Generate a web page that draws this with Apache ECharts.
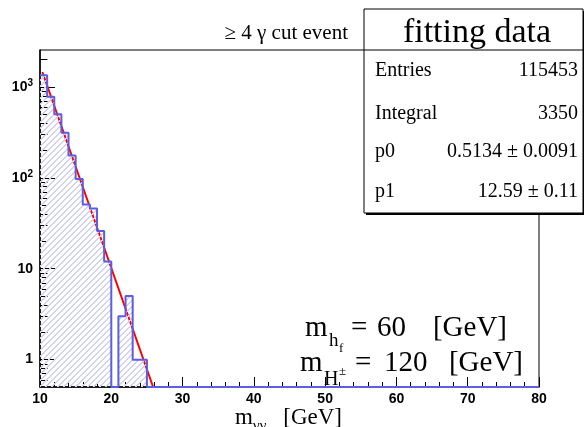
<!DOCTYPE html>
<html>
<head>
<meta charset="utf-8">
<script src="https://cdn.jsdelivr.net/npm/echarts@6/dist/echarts.min.js"></script>
<style>
  html, body { margin: 0; padding: 0; background: #fff; }
  #chart { width: 584px; height: 427px; }
</style>
</head>
<body>
<div id="chart"></div>
<script>
// m_γγ histogram, 1 GeV bins from 10 to 80 GeV
const binLow = 10;
const binWidth = 1;
const counts = [
  1345, 778, 500, 313, 176, 97, 51, 46, 26, 12,
  0, 3, 5, 1, 1, 0, 0, 0, 0, 0,
  0, 0, 0, 0, 0, 0, 0, 0, 0, 0,
  0, 0, 0, 0, 0, 0, 0, 0, 0, 0,
  0, 0, 0, 0, 0, 0, 0, 0, 0, 0,
  0, 0, 0, 0, 0, 0, 0, 0, 0, 0,
  0, 0, 0, 0, 0, 0, 0, 0, 0, 0
];

// exponential fit drawn on the log scale (straight segment, then along the floor)
const fitX = [10.33, 25.87, 80];
const fitY = [1460, 0.5, 0.5];

// axis ranges and tick values
const xMin = 10, xMax = 80, xStep = 10;
const yMin = 0.5, yMax = 2550;
const yMajorTicks = [1, 10, 100, 1000];
const yMinorTicks = [0.6, 0.7, 0.8, 0.9,
  2, 3, 4, 5, 6, 7, 8, 9,
  20, 30, 40, 50, 60, 70, 80, 90,
  200, 300, 400, 500, 600, 700, 800, 900, 2000];

// statistics box
const statTitle = 'fitting data';
const statNames = ['Entries', 'Integral', 'p0', 'p1'];
const statValues = ['115453', '3350', '0.5134 ± 0.0091', '12.59 ± 0.11'];

const SERIF = '"Liberation Serif", "Times New Roman", serif';
const SANS = '"Liberation Sans", Arial, Helvetica, sans-serif';

// histogram outline as a step line; empty bins sit on the axis floor
const histData = counts.map((c, i) => [binLow + i * binWidth, Math.max(c, yMin)]);
histData.push([binLow + counts.length * binWidth, Math.max(counts[counts.length - 1], yMin)]);
const fitData = fitX.map((x, i) => [x, fitY[i]]);

// "/" hatching made from a striped diagonal gradient (canvas pixel space)
function hatchFill() {
  const span = 432;           // gradient runs from (0,0) to (span,span)
  const gap = 6;              // horizontal distance between hatch lines
  const thick = 1.1;          // stripe width measured along x + y
  const ink = '#d2d2f3';
  const clear = 'rgba(255,255,255,0)';
  const stops = [];
  for (let k = 0; k * gap < 2 * span; k++) {
    const a = (k * gap) / (2 * span);
    const b = Math.min(1, (k * gap + thick) / (2 * span));
    stops.push({ offset: a, color: clear }, { offset: a, color: ink },
               { offset: b, color: ink }, { offset: b, color: clear });
  }
  return { type: 'linear', x: 0, y: 0, x2: span, y2: span, global: true, colorStops: stops };
}

// place text pieces (with sub/superscripts) at given x positions on a baseline
function piece(text, x, baseline, size, align) {
  return {
    type: 'text', z: 60, x: x, y: baseline + size * 0.216,
    style: { text: text, font: size + 'px ' + SERIF, fill: '#000', textAlign: align || 'left', textVerticalAlign: 'bottom' }
  };
}

const box = { x: 364, y: 9, w: 219, h: 204 };
const graphics = [
  { type: 'rect', z: 55, shape: { x: box.x + 2, y: box.y + 2, width: box.w, height: box.h }, style: { fill: '#000' } },
  { type: 'rect', z: 56, shape: { x: box.x, y: box.y, width: box.w, height: box.h }, style: { fill: '#fff', stroke: '#000', lineWidth: 1 } },
  { type: 'line', z: 57, shape: { x1: box.x, y1: 50, x2: box.x + box.w, y2: 50 }, style: { stroke: '#000', lineWidth: 1 } },
  piece(statTitle, 477, 43, 34, 'center')
];
const rowBase = [76, 119, 157, 197];
statNames.forEach((n, i) => {
  graphics.push(piece(n, 375, rowBase[i], 20, 'left'));
  graphics.push(piece(statValues[i], 578, rowBase[i], 20, 'right'));
});
graphics.push(piece('≥ 4 γ cut event', 348, 39, 21, 'right'));

// m_{h_f} = 60 [GeV]
graphics.push(
  piece('m', 305, 337, 29), piece('h', 329, 346, 19), piece('f', 339, 352, 13),
  piece('=', 351, 337, 29), piece('60', 377, 337, 29), piece('[GeV]', 507, 337, 29, 'right')
);
// m_{H^±} = 120 [GeV]
graphics.push(
  piece('m', 300, 372, 29), piece('H', 324, 385, 20), piece('±', 339, 375, 13),
  piece('=', 355, 372, 29), piece('120', 384, 372, 29), piece('[GeV]', 523, 372, 29, 'right')
);
// axis title m_{γγ} [GeV]
graphics.push(
  piece('m', 235, 424, 23), piece('γγ', 253, 430, 15), piece('[GeV]', 342, 424, 23, 'right')
);

function powLabel(v) {
  const e = Math.round(Math.log10(v));
  if (e === 0) return '1';
  if (e === 1) return '10';
  return '10{sup|' + e + '}';
}

const chart = echarts.init(document.getElementById('chart'), null, { renderer: 'canvas' });
chart.setOption({
  animation: false,
  backgroundColor: '#fff',
  grid: { left: 40, top: 50, right: 45, bottom: 40, show: true, borderColor: '#000', borderWidth: 1, backgroundColor: 'transparent' },
  xAxis: {
    type: 'value', min: xMin, max: xMax, interval: xStep,
    axisLine: { onZero: false, lineStyle: { color: '#000', width: 1.5 } },
    axisTick: { inside: true, length: 10, lineStyle: { color: '#000', width: 1 } },
    minorTick: { show: true, splitNumber: 5, length: 5, lineStyle: { color: '#000', width: 1 } },
    axisLabel: { color: '#000', fontFamily: SANS, fontWeight: 'bold', fontSize: 14, margin: 5 },
    splitLine: { show: false }
  },
  yAxis: [
    {
      type: 'log', logBase: 10, min: yMin, max: yMax, position: 'left',
      axisLine: { show: true, lineStyle: { color: '#000', width: 1.5 } },
      axisTick: { inside: true, length: 15, customValues: yMajorTicks, lineStyle: { color: '#000', width: 1 } },
      axisLabel: {
        customValues: yMajorTicks, formatter: powLabel, margin: 7,
        color: '#000', fontFamily: SANS, fontWeight: 'bold', fontSize: 14,
        rich: { sup: { fontFamily: SANS, fontWeight: 'bold', fontSize: 10, color: '#000', verticalAlign: 'top', padding: [0, 0, 8, 0] } }
      },
      splitLine: { show: false },
      minorTick: { show: false }
    },
    {
      type: 'log', logBase: 10, min: yMin, max: yMax, position: 'left',
      axisLine: { show: false },
      axisTick: { inside: true, length: 7.5, customValues: yMinorTicks, lineStyle: { color: '#000', width: 1 } },
      axisLabel: { show: false },
      splitLine: { show: false }
    }
  ],
  series: [
    {
      type: 'line', name: 'fit', data: fitData, yAxisIndex: 0, showSymbol: false, z: 2,
      lineStyle: { color: '#ff0000', width: 2 }, clip: true
    },
    {
      type: 'line', name: 'hist', data: histData, yAxisIndex: 0, step: 'end', showSymbol: false, z: 3,
      lineStyle: { color: '#5c5ce4', width: 2 },
      areaStyle: { color: hatchFill(), origin: 'start', opacity: 1 },
      clip: true
    }
  ],
  graphic: graphics
});
</script>
</body>
</html>
